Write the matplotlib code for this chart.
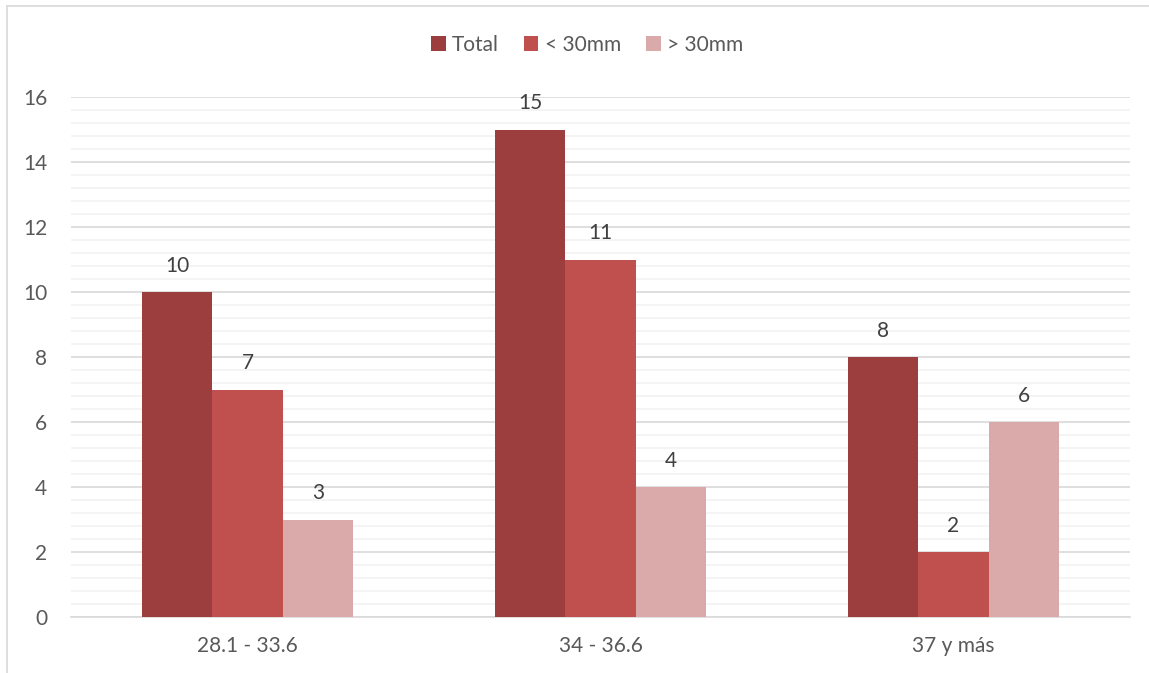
import matplotlib
matplotlib.use("Agg")
import matplotlib.pyplot as plt
from matplotlib.lines import Line2D
from matplotlib.ticker import MultipleLocator
import numpy as np

categories = ["28.1 - 33.6", "34 - 36.6", "37 y más"]
series_names = ["Total", "< 30mm", "> 30mm"]
total = [10, 15, 8]
menor_30 = [7, 11, 2]
mayor_30 = [3, 4, 6]
colors = ["#9C3E3D", "#C0504D", "#DAAAAA"]

plt.rcParams["font.family"] = ["Lato", "DejaVu Sans"]
text_color = "#595959"
fs = 15

fig = plt.figure(figsize=(11.49, 6.73), dpi=100)
ax = fig.add_axes([71 / 1149, 1 - 617 / 673, (1130 - 71) / 1149, (617 - 97) / 673])

x = np.arange(len(categories))
width = 0.2
series = [total, menor_30, mayor_30]
for i, (vals, name, c) in enumerate(zip(series, series_names, colors)):
    pos = x + (i - 1) * width
    bars = ax.bar(pos, vals, width=width, color=c, label=name, zorder=3)
    for b, v in zip(bars, vals):
        ax.text(b.get_x() + b.get_width() / 2, v + 0.5, str(v),
                ha="center", va="bottom", fontsize=fs, color="#404040")

ax.set_xlim(-0.5, len(categories) - 0.5)
ax.set_ylim(0, 16)
ax.yaxis.set_major_locator(MultipleLocator(2))
ax.yaxis.set_minor_locator(MultipleLocator(0.4))
ax.grid(axis="y", which="major", color="#D9D9D9", linewidth=1.2, zorder=0)
ax.grid(axis="y", which="minor", color="#F2F2F2", linewidth=1.2, zorder=0)
ax.set_xticks(x)
ax.set_xticklabels(categories)
ax.tick_params(axis="both", which="both", length=0, labelsize=fs, colors=text_color)
ax.tick_params(axis="y", pad=17)
ax.tick_params(axis="x", pad=14)
for s in ["top", "right", "left"]:
    ax.spines[s].set_visible(False)
ax.spines["bottom"].set_color("#D9D9D9")
ax.spines["bottom"].set_linewidth(1.2)

leg = fig.legend(loc="center", bbox_to_anchor=(587 / 1149, 1 - 45 / 673), ncol=3,
                 frameon=False, fontsize=fs, handlelength=0.7, handleheight=0.7,
                 handletextpad=0.3, columnspacing=1.2)
for t in leg.get_texts():
    t.set_color(text_color)

# chart frame edges
fig.add_artist(Line2D([7 / 1149, 1], [1 - 6 / 673, 1 - 6 / 673], color="#D9D9D9", lw=1.2))
fig.add_artist(Line2D([7 / 1149, 7 / 1149], [0, 1 - 6 / 673], color="#D9D9D9", lw=1.2))

fig.savefig("out.png", dpi=100)
